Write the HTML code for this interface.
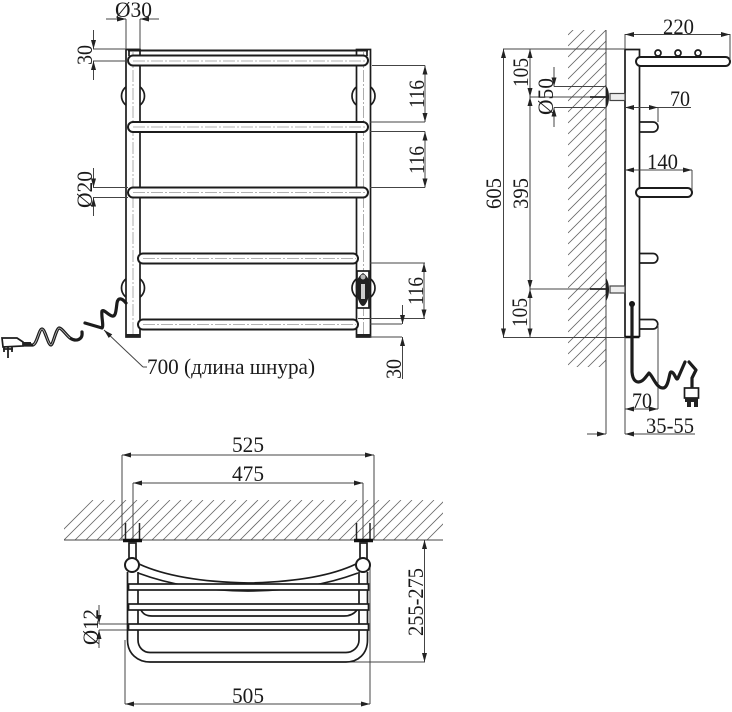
<!DOCTYPE html>
<html><head><meta charset="utf-8"><style>
html,body{margin:0;padding:0;background:#fff}
svg{display:block}
text{font-family:"Liberation Serif","DejaVu Serif",serif;font-size:22px;fill:#1a1a1a}
.o{stroke:#1c1c1c;stroke-width:1.7;fill:none}
.f{stroke:#1c1c1c;stroke-width:1.7;fill:#fff}
.r{stroke:#1c1c1c;stroke-width:2;fill:#fff}
.d{stroke:#444;stroke-width:1;fill:none}
.a{marker-end:url(#ah)}
.b{marker-end:url(#ah);marker-start:url(#ahs)}
.c{stroke:#999;stroke-width:.8;stroke-dasharray:12 2 2 2;fill:none}
.k{stroke:#1c1c1c;stroke-width:3.2;fill:none;stroke-linecap:round;stroke-linejoin:round}
.w{stroke:#bbb;stroke-width:.8;fill:none}
.t{stroke:#666;stroke-width:.8;fill:none}
</style></head><body>
<svg width="732" height="712" viewBox="0 0 732 712" xmlns="http://www.w3.org/2000/svg">
<defs>
<marker id="ah" markerUnits="userSpaceOnUse" markerWidth="10" markerHeight="6" refX="9" refY="2.5" orient="auto"><path d="M0 0L9 2.5L0 5z" fill="#222"/></marker>
<marker id="ahs" markerUnits="userSpaceOnUse" markerWidth="10" markerHeight="6" refX="0" refY="2.5" orient="auto"><path d="M9 0L0 2.5L9 5z" fill="#222"/></marker>
<clipPath id="c1"><rect x="568" y="30" width="38" height="337"/></clipPath>
<clipPath id="c2"><rect x="64" y="500" width="379" height="40"/></clipPath>
</defs>

<!-- FRONT VIEW -->
<g>
<circle class="o" cx="133" cy="96" r="11.500"/><circle class="o" cx="363.500" cy="96" r="11.500"/>
<circle class="o" cx="133" cy="288" r="11.500"/><circle class="o" cx="363.500" cy="288" r="11.500"/>
<rect class="f" x="126" y="49.500" width="14" height="287.500"/>
<rect class="f" x="356.500" y="49.500" width="14" height="287.500"/>
<path class="c" d="M133 52V335M363.500 52V335"/>
<rect x="126" y="334" width="14" height="3" fill="#222"/><rect x="356.500" y="334" width="14" height="3" fill="#222"/>
<path class="o" d="M126 49.500H140M129 50V56M367 50V56"/>
<path d="M128 50.500H368" stroke="#1c1c1c" stroke-width="2" fill="none"/>
<rect class="r" x="128" y="55.500" width="240" height="10" rx="5"/>
<rect class="r" x="128" y="122" width="240" height="10" rx="5"/>
<rect class="r" x="128" y="187.500" width="240" height="10" rx="5"/>
<rect class="r" x="138" y="253.500" width="220" height="10" rx="5"/>
<rect class="r" x="138" y="319.500" width="220" height="10" rx="5"/>
<path class="c" d="M133 61H366M133 127H366M133 192.500H366M143 258.500H356M143 324.500H356"/>
<!-- heater -->
<rect class="f" x="357" y="271" width="12" height="37" stroke-width="2"/>
<path d="M363 273C357 277 355 284 356 290C357 298 360 306 363 306C366 306 369 298 370 290C371 284 369 277 363 273z" fill="#222"/>
<rect x="361" y="284" width="4" height="15" fill="#ccc"/>
<circle cx="363" cy="277" r="2.500" fill="#bbb"/>
</g>
<!-- front dims -->
<path class="d" d="M126 19V49M140 19V49M93 49H126M93 61H128M93 187.500H128M93 197.500H128M372 65.500H425M370 122H425M370 131.500H425M370 187.500H425M370 263H425M358 318.500H425M370 324H402M370 337H402"/>
<path class="d a" d="M106 19H126"/><path class="d a" d="M159 19H140"/>
<path class="d a" d="M93.500 30V49"/><path class="d a" d="M93.500 80V61"/>
<path class="d a" d="M93.500 168V187.500"/><path class="d a" d="M93.500 216V197.500"/>
<path class="d b" d="M425 65.500V122"/><path class="d b" d="M425 131.500V187.500"/><path class="d b" d="M424 263V318.500"/>
<path class="d a" d="M402.500 305V324"/><path class="d a" d="M402.500 379V337"/>
<path class="d a" d="M143 367L104 330"/><path class="d" d="M143 367H147"/>
<text x="115" y="17" textLength="37" lengthAdjust="spacingAndGlyphs">Ø30</text>
<text transform="translate(92,65) rotate(-90)" textLength="20" lengthAdjust="spacingAndGlyphs">30</text>
<text transform="translate(92,208) rotate(-90)" textLength="37" lengthAdjust="spacingAndGlyphs">Ø20</text>
<text transform="translate(424,108) rotate(-90)" textLength="28" lengthAdjust="spacingAndGlyphs">116</text>
<text transform="translate(424,174) rotate(-90)" textLength="28" lengthAdjust="spacingAndGlyphs">116</text>
<text transform="translate(423,305) rotate(-90)" textLength="28" lengthAdjust="spacingAndGlyphs">116</text>
<text transform="translate(401,379) rotate(-90)" textLength="20" lengthAdjust="spacingAndGlyphs">30</text>
<text x="147" y="374" textLength="168" lengthAdjust="spacingAndGlyphs">700 (длина шнура)</text>
<!-- front cord -->
<path class="k" d="M126 303C122 298 118 297 117 303C116 310 116 317 112 316C108 315 104 309 102 311C101 316 104 326 102 328L85 323"/>
<path class="k" d="M82 332C83 340 76 342 70 338C66 335 62 328 59 328C56 329 53 345 51 345C48 345 45 329 42 329C39 329 37 344 33 345L24 345"/>
<path class="w" d="M70 338C66 335 62 328 59 328C56 329 53 345 51 345C48 345 45 329 42 329C39 329 37 344 33 345"/>
<path class="f" d="M2 338H17L23 342V346L3 347z"/>
<rect x="23" y="342" width="8" height="4" fill="#222"/>
<path d="M3 349H13M4 347V352M8 347V358M12 347V352" stroke="#222" stroke-width="1.800"/>

<!-- SIDE VIEW -->
<path class="t" clip-path="url(#c1)" d="M568 35l38-38m-38 49l38-38m-38 49l38-38m-38 49l38-38m-38 49l38-38m-38 49l38-38m-38 49l38-38m-38 49l38-38m-38 49l38-38m-38 49l38-38m-38 49l38-38m-38 49l38-38m-38 49l38-38m-38 49l38-38m-38 49l38-38m-38 49l38-38m-38 49l38-38m-38 49l38-38m-38 49l38-38m-38 49l38-38m-38 49l38-38m-38 49l38-38m-38 49l38-38m-38 49l38-38m-38 49l38-38m-38 49l38-38m-38 49l38-38m-38 49l38-38m-38 49l38-38m-38 49l38-38m-38 49l38-38m-38 49l38-38m-38 49l38-38m-38 49l38-38"/>
<path class="d" d="M606 30V434"/>
<path class="o" d="M625 49.500V337M625 49.500H639.500V337M625 337H639.500"/>
<path d="M625 337H639.500" stroke="#111" stroke-width="2.500"/>
<rect class="r" x="636" y="57" width="94" height="9" rx="4.500"/>
<rect class="r" x="636" y="188" width="56" height="9" rx="4.500"/>
<path class="o" stroke-width="2" d="M640 122H653a5 5 0 0 1 0 10H640M640 253.500H653a4.750 4.750 0 0 1 0 9.500H640M640 319.500H653a4.750 4.750 0 0 1 0 9.500H640"/>
<circle class="f" cx="658" cy="53" r="3"/><circle class="f" cx="678" cy="53" r="3"/><circle class="f" cx="698" cy="53" r="3"/>
<!-- bolts -->
<path d="M606 86C610 90 610 104 606 108z" fill="#222"/>
<path d="M606 278C610 283 610 296 606 301z" fill="#222"/>
<rect x="610" y="93.500" width="15" height="7" stroke="#444" stroke-width="1.200" fill="#eee"/>
<rect x="610" y="286" width="15" height="7" stroke="#444" stroke-width="1.200" fill="#eee"/>
<path d="M590 97H606M590 289H606" stroke="#222" stroke-width="1.800"/>
<!-- side dims -->
<path class="d" d="M503 49H625M503 337.500H625M530 97H590M530 289H590M554 86.500H606M554 107.500H606M625 34V49M730 34V60M658 107V122M692 170V190M658 325V409M691 107.500H658M692 170H662M625 337V434"/>
<path class="d b" d="M625 34.500H730"/><path class="d b" d="M625 107.500H658"/><path class="d b" d="M625 170H692"/><path class="d b" d="M625 409H658"/>
<path class="d b" d="M503.500 49V337.500"/>
<path class="d b" d="M530 49V97"/><path class="d b" d="M530 97V289"/><path class="d b" d="M530 289V337.500"/>
<path class="d a" d="M554 67V86.500"/><path class="d a" d="M554 127V107.500"/>
<path class="d a" d="M587 434H606"/><path class="d a" d="M695 434H625"/>
<text x="663" y="34" textLength="31" lengthAdjust="spacingAndGlyphs">220</text>
<text x="670" y="106" textLength="20" lengthAdjust="spacingAndGlyphs">70</text>
<text x="647" y="169" textLength="31" lengthAdjust="spacingAndGlyphs">140</text>
<text x="632" y="408" textLength="20" lengthAdjust="spacingAndGlyphs">70</text>
<text x="646" y="433" textLength="48" lengthAdjust="spacingAndGlyphs">35-55</text>
<text transform="translate(528,87) rotate(-90)" textLength="29" lengthAdjust="spacingAndGlyphs">105</text>
<text transform="translate(553,115) rotate(-90)" textLength="37" lengthAdjust="spacingAndGlyphs">Ø50</text>
<text transform="translate(528,209) rotate(-90)" textLength="31" lengthAdjust="spacingAndGlyphs">395</text>
<text transform="translate(501,209) rotate(-90)" textLength="31" lengthAdjust="spacingAndGlyphs">605</text>
<text transform="translate(527,327) rotate(-90)" textLength="29" lengthAdjust="spacingAndGlyphs">105</text>
<!-- side cord -->
<circle cx="632" cy="304" r="3" fill="#111"/>
<path class="k" stroke-width="2.500" d="M632 304V372C633 384 640 384 645 378L649 373C653 376 656 388 663 388C669 388 669 372 671 372C675 372 676 382 678 378L685 362"/>
<path class="k" d="M689 362L696 370L692 378L692 387"/>
<rect class="f" x="684.500" y="388" width="14" height="10"/>
<path d="M685 398H698V402H685zM687 402H691V407H687zM694 402H698V407H694z" fill="#222"/>

<!-- BOTTOM VIEW -->
<path class="t" clip-path="url(#c2)" d="M53 540l40-40m-29 40l40-40m-29 40l40-40m-29 40l40-40m-29 40l40-40m-29 40l40-40m-29 40l40-40m-29 40l40-40m-29 40l40-40m-29 40l40-40m-29 40l40-40m-29 40l40-40m-29 40l40-40m-29 40l40-40m-29 40l40-40m-29 40l40-40m-29 40l40-40m-29 40l40-40m-29 40l40-40m-29 40l40-40m-29 40l40-40m-29 40l40-40m-29 40l40-40m-29 40l40-40m-29 40l40-40m-29 40l40-40m-29 40l40-40m-29 40l40-40m-29 40l40-40m-29 40l40-40m-29 40l40-40m-29 40l40-40m-29 40l40-40m-29 40l40-40m-29 40l40-40"/>
<path class="d" d="M64 540H443"/>
<path class="d" d="M122 455V540M374 455V540M133 483V540M363 483V540"/>
<path class="d" d="M125 640V704M370 565V704M350 662H425M99 624H128M99 630H128"/>
<path class="d b" d="M122 455H374"/><path class="d b" d="M133 483H363"/><path class="d b" d="M125 704H370"/><path class="d b" d="M424.500 540V662"/>
<path class="d a" d="M99 605V624"/><path class="d a" d="M99 648V630"/>
<path d="M125.500 523V540M139.500 523V540M356.500 523V540M370 523V540" stroke="#222" stroke-width="1.500"/>
<path d="M123 540.500H142M354 540.500H373" stroke="#111" stroke-width="3.500"/>
<rect class="o" x="129" y="543" width="7" height="16" stroke-width="1.300"/>
<rect class="o" x="360" y="543" width="7" height="16" stroke-width="1.300"/>
<path class="o" d="M139 564C165 576 200 582 248 583C296 582 331 576 356 564"/>
<path class="o" d="M138 573C165 583 200 591 248 591C296 591 331 583 358 573"/>
<path class="o" d="M127.500 572V640C127.500 654 138 662 150 662H346C358 662 367.500 654 367.500 640V572"/>
<path class="o" d="M138 572V640C138 647 143 652.500 150 652.500H346C353 652.500 359 647 359 640V572"/>
<path class="o" d="M141 610C143 614 146 616 152 616H344C350 616 354 614 357 610"/>
<rect class="f" x="128.500" y="584" width="240" height="6"/>
<rect class="f" x="128.500" y="604" width="240" height="6"/>
<rect class="f" x="128.500" y="624" width="240" height="6"/>
<circle class="r" cx="132" cy="565" r="7"/>
<circle class="r" cx="363" cy="565" r="7"/>
<text x="232" y="452" textLength="32" lengthAdjust="spacingAndGlyphs">525</text>
<text x="232" y="481" textLength="32" lengthAdjust="spacingAndGlyphs">475</text>
<text x="232" y="703" textLength="32" lengthAdjust="spacingAndGlyphs">505</text>
<text transform="translate(423,636) rotate(-90)" textLength="68" lengthAdjust="spacingAndGlyphs">255-275</text>
<text transform="translate(98,645) rotate(-90)" textLength="36" lengthAdjust="spacingAndGlyphs">Ø12</text>
</svg>
</body></html>
